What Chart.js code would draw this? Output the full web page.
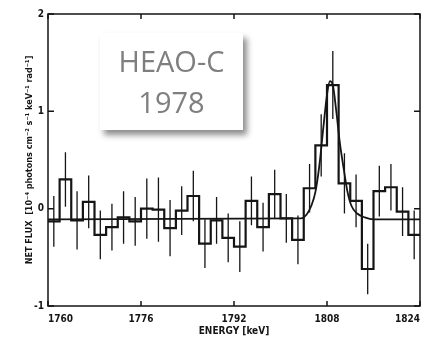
<!DOCTYPE html>
<html>
<head>
<meta charset="utf-8">
<script src="https://cdn.jsdelivr.net/npm/chart.js@4.4.0/dist/chart.umd.min.js"></script>
<style>
  html, body { margin: 0; padding: 0; background: #fff; }
  #wrap { position: relative; width: 427px; height: 337px; }
  #tag {
    position: absolute; left: 100px; top: 33px; width: 143px; height: 97px;
    box-sizing: border-box; padding-top: 7px;
    background: #fff; box-shadow: 4px 5px 6px rgba(0,0,0,0.45);
    font-family: 'Open Sans', sans-serif; font-size: 29px; line-height: 41px;
    color: #7f7f7f; text-align: center;
  }
</style>
</head>
<body>
<div id="wrap">
  <canvas id="lineChart" width="427" height="337"></canvas>
  <div id="tag">HEAO-C<br>1978</div>
</div>
<script>
// bin centres (keV), 2 keV wide bins
const binEnergy = [1761, 1763, 1765, 1767, 1769, 1771, 1773, 1775,
                   1777, 1779, 1781, 1783, 1785, 1787, 1789, 1791,
                   1793, 1795, 1797, 1799, 1801, 1803, 1805, 1807,
                   1809, 1811, 1813, 1815, 1817, 1819, 1821, 1823];
const netFlux = [-0.13, 0.30, -0.12, 0.07, -0.27, -0.19, -0.09, -0.13,
                 0.00, -0.01, -0.20, -0.02, 0.13, -0.36, -0.12, -0.30,
                 -0.39, 0.08, -0.19, 0.15, -0.10, -0.32, 0.21, 0.65,
                 1.27, 0.26, 0.08, -0.62, 0.18, 0.22, -0.03, -0.27];
const fluxErr = [0.26, 0.28, 0.30, 0.27, 0.25, 0.24, 0.27, 0.25,
                 0.31, 0.33, 0.29, 0.25, 0.26, 0.25, 0.24, 0.25,
                 0.26, 0.25, 0.25, 0.25, 0.25, 0.25, 0.25, 0.32,
                 0.35, 0.31, 0.27, 0.26, 0.26, 0.24, 0.25, 0.25];
// fitted line profile
const fitEnergy = [1760, 1803.5, 1804.5, 1805.3, 1806.0, 1806.7, 1807.4, 1808.0, 1808.5,
                   1809.0, 1809.6, 1810.2, 1810.9, 1811.5, 1812.2, 1813.2, 1814.5, 1816, 1824];
const fitFlux = [-0.11, -0.10, -0.06, 0.03, 0.17, 0.45, 0.85, 1.17, 1.31,
                 1.27, 1.00, 0.68, 0.40, 0.18, 0.03, -0.05, -0.09, -0.11, -0.11];
const energyTicks = [1760, 1776, 1792, 1808, 1824];
const fluxTicks = [-1, 0, 1, 2];

const ink = '#151515';
const labelFont = "'Liberation Sans Narrow', 'DejaVu Sans Condensed', sans-serif";

// step outline: left edge of each bin, plus the closing edge
const steps = binEnergy.map((e, i) => ({x: e - 1, y: netFlux[i]}));
steps.push({x: binEnergy[binEnergy.length - 1] + 1, y: netFlux[netFlux.length - 1]});

const bars = [];
binEnergy.forEach((e, i) => {
  bars.push({x: e, y: netFlux[i] - fluxErr[i]});
  bars.push({x: e, y: netFlux[i] + fluxErr[i]});
  bars.push({x: e, y: null});
});

const fit = fitEnergy.map((e, i) => ({x: e, y: fitFlux[i]}));

const frameTicks = {
  id: 'frameTicks',
  afterDatasetsDraw(chart) {
    const {ctx, chartArea: a, scales: {x, y}} = chart;
    ctx.save();
    ctx.strokeStyle = ink;
    ctx.lineWidth = 1.5;
    ctx.strokeRect(a.left, a.top, a.right - a.left, a.bottom - a.top);
    ctx.beginPath();
    energyTicks.forEach(v => {
      const px = x.getPixelForValue(v);
      ctx.moveTo(px, a.bottom); ctx.lineTo(px, a.bottom - 5);
      ctx.moveTo(px, a.top); ctx.lineTo(px, a.top + 5);
    });
    fluxTicks.forEach(v => {
      const py = y.getPixelForValue(v);
      ctx.moveTo(a.left, py); ctx.lineTo(a.left + 6, py);
      ctx.moveTo(a.right, py); ctx.lineTo(a.right - 6, py);
    });
    ctx.stroke();
    ctx.restore();
  }
};

new Chart(document.getElementById('lineChart'), {
  type: 'line',
  data: {
    datasets: [
      {data: bars, borderColor: ink, borderWidth: 1.3, pointRadius: 0, spanGaps: false},
      {data: steps, borderColor: ink, borderWidth: 2.2, pointRadius: 0, stepped: true},
      {data: fit, borderColor: ink, borderWidth: 1.8, pointRadius: 0, cubicInterpolationMode: 'monotone'}
    ]
  },
  options: {
    responsive: false,
    animation: false,
    devicePixelRatio: 1,
    layout: {padding: {top: 14, right: 3, bottom: 0, left: 0}},
    plugins: {legend: {display: false}, tooltip: {enabled: false}},
    scales: {
      x: {
        type: 'linear', min: 1760, max: 1824,
        afterBuildTicks: s => { s.ticks = energyTicks.map(v => ({value: v})); },
        afterFit: s => { s.height = 31; },
        grid: {display: false, drawTicks: false}, border: {display: false},
        ticks: {color: ink, padding: 7, align: 'inner', maxRotation: 0,
                callback: v => String(v),
                font: {family: labelFont, size: 10, weight: 'bold'}},
        title: {display: true, text: 'ENERGY [keV]', color: ink, padding: 0,
                font: {family: labelFont, size: 10, weight: 'bold'}}
      },
      y: {
        min: -1, max: 2,
        afterBuildTicks: s => { s.ticks = fluxTicks.map(v => ({value: v})); },
        afterFit: s => { s.width = 48; },
        grid: {display: false, drawTicks: false}, border: {display: false},
        ticks: {color: ink, padding: 4, callback: v => String(v),
                font: {family: labelFont, size: 10, weight: 'bold'}},
        title: {display: true, text: 'NET FLUX  [10\u207B\u2074 photons cm\u207B\u00B2 s\u207B\u00B9 keV\u207B\u00B9 rad\u207B\u00B9]',
                color: ink, padding: {top: 24, bottom: 0},
                font: {family: labelFont, size: 9, weight: 'bold'}}
      }
    }
  },
  plugins: [frameTicks]
});
</script>
</body>
</html>
